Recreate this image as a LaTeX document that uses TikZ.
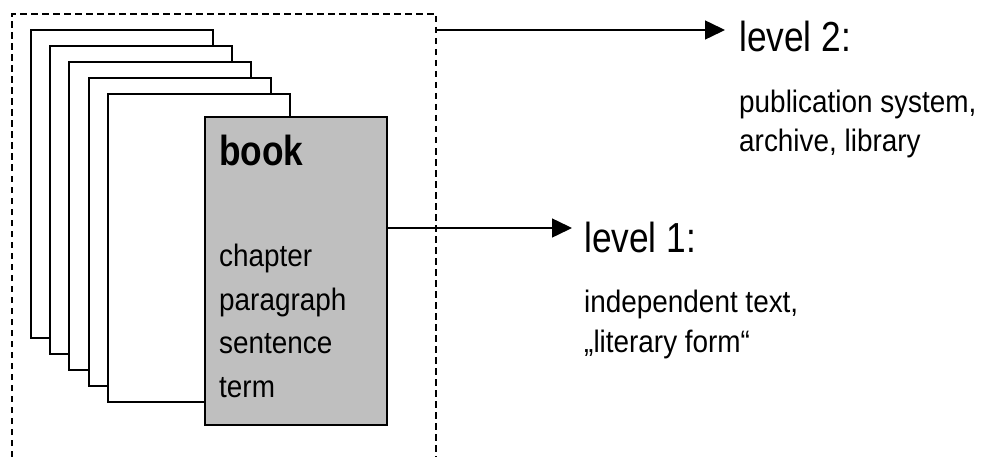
\documentclass[tikz,border=0pt]{standalone}
\usepackage{fontspec}
\setmainfont{Liberation Sans}
\newfontfamily\narrowfont[FakeStretch=0.84]{Liberation Sans}
\newfontfamily\bodyfont[FakeStretch=0.9]{Liberation Sans}
\usetikzlibrary{arrows.meta}
\tikzset{
  pagebox/.style={draw=black, line width=1.5pt, fill=white, minimum width=182pt, minimum height=308pt, inner sep=0pt, outer sep=0pt, anchor=north west},
  bookbox/.style={pagebox, fill=black!25, line width=1.8pt},
  head/.style={anchor=base west, inner sep=0pt, font=\narrowfont\fontsize{42}{48}\selectfont},
  bodytxt/.style={anchor=base west, inner sep=0pt, font=\bodyfont\fontsize{31}{36}\selectfont},
  conn/.style={line width=1.5pt, -{Triangle[length=20pt,width=19pt]}},
  frame/.style={dashed, dash pattern=on 6.5pt off 4.5pt, line width=1.3pt}
}
\begin{document}
\begin{tikzpicture}[x=1pt,y=-1pt]
\useasboundingbox (0,0) rectangle (981,457);
% dashed frame (open at the bottom)
\draw[frame] (12,457) -- (12,14) -- (436,14) -- (436,457);
% stacked pages
\node[pagebox] (p1) at (31,30) {};
\node[pagebox] (p2) at (50,46) {};
\node[pagebox] (p3) at (69,62) {};
\node[pagebox] (p4) at (89,78) {};
\node[pagebox] (p5) at (108,94) {};
\node[bookbox] (book) at (205,117) {};
% book text
\node[head, font=\narrowfont\bfseries\fontsize{42}{48}\selectfont] (tbook) at (219,165) {book};
\node[bodytxt] (t1) at (219,266) {chapter};
\node[bodytxt] (t2) at (219,310) {paragraph};
\node[bodytxt] (t3) at (219,353) {sentence};
\node[bodytxt] (t4) at (219,397) {term};
% level 2
\coordinate (s2) at (436,30);
\coordinate (e2) at (725,30);
\node[head] (l2) at (739,52) {level 2:};
\node[bodytxt] (l2a) at (739,113) {publication system,};
\node[bodytxt] (l2b) at (739,152) {archive, library};
% level 1
\coordinate (s1) at (387,228);
\coordinate (e1) at (572,228);
\node[head] (l1) at (584,252) {level 1:};
\node[bodytxt] (l1a) at (584,312) {independent text,};
\node[bodytxt] (l1b) at (584,352) {„literary form“};
\draw[conn] (s2) -- (e2);
\draw[conn] (s1) -- (e1);
\end{tikzpicture}
\end{document}
